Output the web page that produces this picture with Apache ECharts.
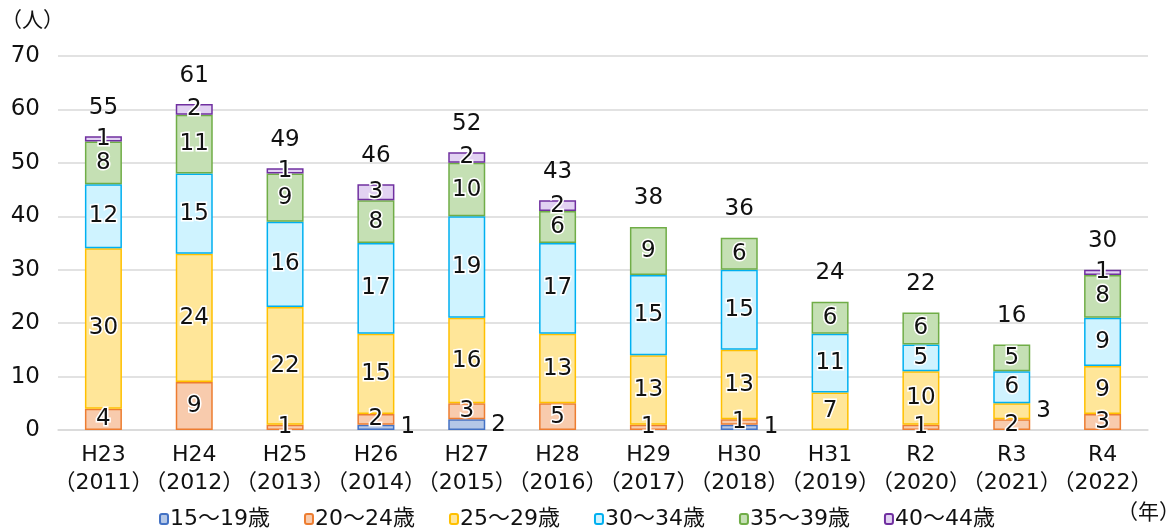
<!DOCTYPE html>
<html>
<head>
<meta charset="utf-8">
<script src="https://cdn.jsdelivr.net/npm/echarts@6/dist/echarts.min.js"></script>
<style>
html,body{margin:0;padding:0;background:#fff;}
#chart{width:1176px;height:529px;}
</style>
</head>
<body>
<div id="chart"></div>
<script>
const categories = ['H23\n（2011）','H24\n（2012）','H25\n（2013）','H26\n（2014）','H27\n（2015）','H28\n（2016）','H29\n（2017）','H30\n（2018）','H31\n（2019）','R2\n（2020）','R3\n（2021）','R4\n（2022）'];
const seriesNames = ['15～19歳','20～24歳','25～29歳','30～34歳','35～39歳','40～44歳'];
const age15_19 = [0, 0, 0, 1, 2, 0, 0, 1, 0, 0, 0, 0];
const age20_24 = [4, 9, 1, 2, 3, 5, 1, 1, 0, 1, 2, 3];
const age25_29 = [30, 24, 22, 15, 16, 13, 13, 13, 7, 10, 3, 9];
const age30_34 = [12, 15, 16, 17, 19, 17, 15, 15, 11, 5, 6, 9];
const age35_39 = [8, 11, 9, 8, 10, 6, 9, 6, 6, 6, 5, 8];
const age40_44 = [1, 2, 1, 3, 2, 2, 0, 0, 0, 0, 0, 1];
const yTicks = [0, 10, 20, 30, 40, 50, 60, 70];

const seriesValues = [age15_19, age20_24, age25_29, age30_34, age35_39, age40_44];
const totals = categories.map((c, i) => seriesValues.reduce((s, arr) => s + arr[i], 0));

// [seriesIndex, categoryIndex] of labels drawn beside the bar
const outsideLabels = [[0, 3], [0, 4], [0, 7], [2, 10]];

const fills = ['#b4c7e7', '#f8cbad', '#ffe699', '#cff3ff', '#c5e0b4', '#e2d2f2'];
const borders = ['#4472c4', '#ed7d31', '#ffc000', '#00b0f0', '#70ad47', '#7030a0'];

const FONT = '"DejaVu Sans", "Noto Sans CJK JP", sans-serif';

const series = seriesValues.map((arr, si) => ({
  name: seriesNames[si],
  type: 'bar',
  stack: 'total',
  barWidth: 37,
  itemStyle: { color: fills[si], borderColor: borders[si], borderWidth: 1.5 },
  label: {
    show: true,
    position: 'inside',
    color: '#111',
    fontSize: 23,
    fontFamily: FONT,
    textBorderColor: '#fff',
    textBorderWidth: 3,
    formatter: p => (p.value ? String(p.value) : '')
  },
  data: arr.map((v, ci) => {
    if (!v) return '-';
    const out = outsideLabels.some(o => o[0] === si && o[1] === ci);
    if (out) return { value: v, label: { position: 'right', distance: 6, textBorderWidth: 0 } };
    return v;
  })
}));

series.push({
  name: 'total',
  type: 'bar',
  stack: 'total',
  barWidth: 37,
  itemStyle: { color: 'transparent' },
  label: {
    show: true,
    position: 'top',
    distance: 17,
    color: '#111',
    fontSize: 23,
    fontFamily: FONT,
    formatter: p => String(totals[p.dataIndex])
  },
  data: totals.map(() => 0)
});

const chart = echarts.init(document.getElementById('chart'));
chart.setOption({
  backgroundColor: '#fff',
  animation: false,
  title: [
    { text: '（人）', left: -4, top: 6, textStyle: { fontSize: 21, fontWeight: 'normal', color: '#111', fontFamily: FONT } },
    { text: '（年）', left: 1112, top: 498, textStyle: { fontSize: 21, fontWeight: 'normal', color: '#111', fontFamily: FONT } }
  ],
  legend: {
    data: seriesNames,
    left: 154,
    top: 503,
    itemWidth: 8,
    itemHeight: 10,
    itemGap: 34,
    textStyle: { fontSize: 22, color: '#111', fontFamily: FONT, padding: [0, 0, 0, -3] }
  },
  grid: { left: 58, right: 28, top: 56, bottom: 99, containLabel: false },
  xAxis: {
    type: 'category',
    data: categories,
    axisLine: { lineStyle: { color: '#d9d9d9', width: 1.5 } },
    axisTick: { show: false },
    axisLabel: { color: '#111', fontSize: 22, lineHeight: 28, margin: 11, fontFamily: FONT, interval: 0 }
  },
  yAxis: {
    type: 'value',
    min: yTicks[0],
    max: yTicks[yTicks.length - 1],
    interval: yTicks[1] - yTicks[0],
    axisLine: { show: false },
    axisTick: { show: false },
    splitLine: { lineStyle: { color: '#d9d9d9', width: 1.5 } },
    axisLabel: { color: '#111', fontSize: 23, margin: 18, fontFamily: FONT }
  },
  series: series
});
</script>
</body>
</html>
